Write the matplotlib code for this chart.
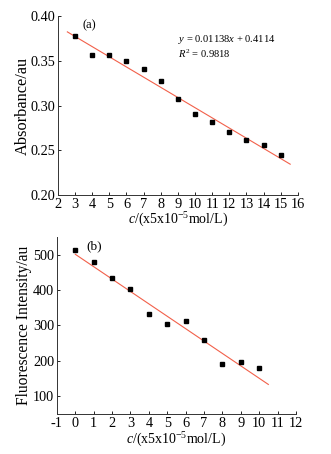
import matplotlib
matplotlib.use("Agg")
import matplotlib.pyplot as plt

# panel (a): absorbance vs concentration
abs_conc = [3, 4, 5, 6, 7, 8, 9, 10, 11, 12, 13, 14, 15]
absorbance = [0.378, 0.357, 0.357, 0.350, 0.341, 0.327, 0.307, 0.290, 0.282, 0.270, 0.262, 0.256, 0.245]
abs_slope, abs_icept = -0.01138, 0.4114
abs_fit_range = [2.55, 15.55]

# panel (b): fluorescence vs concentration
fl_conc = [0, 1, 2, 3, 4, 5, 6, 7, 8, 9, 10]
fluorescence = [514, 480, 435, 402, 333, 303, 312, 258, 190, 198, 180]
fl_slope, fl_icept = -35.0, 501.0
fl_fit_range = [0, 10.5]

plt.rcParams["font.family"] = ["Liberation Serif", "DejaVu Serif"]
plt.rcParams["mathtext.fontset"] = "custom"
plt.rcParams["mathtext.rm"] = "Liberation Serif"
plt.rcParams["mathtext.it"] = "Liberation Serif:italic"
plt.rcParams["axes.unicode_minus"] = False

XLABEL = r"$c$/(x5x10$^{-5}$mol/L)"
LINE_COLOR = "#f2604a"
TICK_FS = 10.3

fig = plt.figure(figsize=(3.31, 4.54), dpi=100)
ax1 = fig.add_axes([0.175, 0.5705, 0.725, 0.394])
ax2 = fig.add_axes([0.172, 0.0881, 0.722, 0.390])


def style(ax):
    for side in ("top", "right"):
        ax.spines[side].set_visible(False)
    for side in ("left", "bottom"):
        ax.spines[side].set_linewidth(0.7)
        ax.spines[side].set_color("#333333")
    ax.tick_params(direction="in", length=2, width=0.6, labelsize=TICK_FS, pad=2)


ax1.plot(abs_fit_range, [abs_slope * x + abs_icept for x in abs_fit_range],
         color=LINE_COLOR, lw=0.8)
ax1.plot(abs_conc, absorbance, "s", color="black", ms=3)
ax1.set_xlim(2, 16)
ax1.set_ylim(0.20, 0.40)
ax1.set_xticks(range(2, 17))
ax1.set_yticks([0.20, 0.25, 0.30, 0.35, 0.40])
ax1.set_yticklabels(["0.20", "0.25", "0.30", "0.35", "0.40"])
ax1.set_xlabel(XLABEL, fontsize=10, labelpad=0)
ax1.set_ylabel("Absorbance/au", fontsize=11.8, labelpad=0)
ax1.text(3.45, 0.390, "(a)", fontsize=9, va="center")
ax1.text(9.0, 0.374, r"$y$ = 0.01138$x$ + 0.4114", fontsize=7.6, va="center")
ax1.text(9.0, 0.3575, r"$R^2$ = 0.9818", fontsize=7.6, va="center")
style(ax1)

ax2.plot(fl_fit_range, [fl_slope * x + fl_icept for x in fl_fit_range],
         color=LINE_COLOR, lw=0.8)
ax2.plot(fl_conc, fluorescence, "s", color="black", ms=3)
ax2.set_xlim(-1, 12)
ax2.set_ylim(50, 550)
ax2.set_xticks(range(-1, 13))
ax2.set_yticks([100, 200, 300, 400, 500])
ax2.tick_params(axis="x", pad=3)
ax2.set_xlabel(XLABEL, fontsize=10, labelpad=1)
ax2.set_ylabel("Fluorescence Intensity/au", fontsize=11.2, labelpad=1)
ax2.text(0.6, 525, "(b)", fontsize=9.5, va="center")
style(ax2)

fig.savefig("out.png", dpi=100)
